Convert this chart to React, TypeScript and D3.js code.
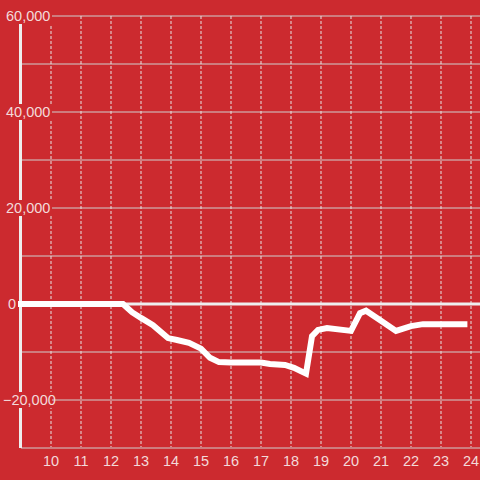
import React from "react";
import * as d3 from "d3";

const xValues = [9, 12.4, 12.7, 13.0, 13.4, 13.9, 14.2, 14.6, 15.0, 15.3, 15.6, 16.0, 17.0, 17.3, 17.8, 18.1, 18.5, 18.7, 18.9, 19.2, 20.0, 20.3, 20.5, 21.0, 21.5, 22.0, 22.4, 23.78];
const yValues = [0, 0, -1700, -2900, -4400, -7100, -7500, -8100, -9300, -11200, -12100, -12200, -12200, -12500, -12700, -13300, -14500, -6700, -5400, -5000, -5600, -1900, -1400, -3500, -5600, -4600, -4200, -4200];
const xTicks = [10, 11, 12, 13, 14, 15, 16, 17, 18, 19, 20, 21, 22, 23, 24];
const yGrid = [-30000, -20000, -10000, 10000, 20000, 30000, 40000, 50000, 60000];
const yLabels = [-20000, 0, 20000, 40000, 60000];

const W = 480;
const H = 480;
const BG = "#cc2a2f";

export default function App() {
  const x = d3.scaleLinear().domain([9, 24.3]).range([21, 480]);
  const y = d3.scaleLinear().domain([-30000, 60000]).range([448, 16]);
  const pts: [number, number][] = xValues.map((v, i) => [v, yValues[i]]);
  const line = d3
    .line<[number, number]>()
    .x((d) => x(d[0]))
    .y((d) => y(d[1]));
  const fmt = d3.format(",");
  return (
    <div style={{ position: "fixed", left: 0, top: 0, width: W, height: H }}>
      <svg width={W} height={H} style={{ display: "block", fontFamily: "'Liberation Sans', Arial, sans-serif" }}>
        <rect x={0} y={0} width={W} height={H} fill={BG} />
        {yGrid.map((v) => (
          <line key={"g" + v} x1={x(9)} x2={W} y1={y(v)} y2={y(v)} stroke="#cfcfcf" strokeWidth={1} />
        ))}
        {xTicks.map((t) => (
          <line key={"v" + t} x1={x(t)} x2={x(t)} y1={y(60000)} y2={y(-30000) - 1} stroke="#e6e6e6" strokeWidth={1} strokeDasharray="3,2" />
        ))}
        <line x1={x(9)} x2={W} y1={y(0)} y2={y(0)} stroke="#eeeeee" strokeWidth={3} />
        <line x1={x(9) - 0.5} x2={x(9) - 0.5} y1={y(60000)} y2={y(-30000)} stroke="#eeeeee" strokeWidth={3} />
        {yLabels.map((v) => (
          <g key={"l" + v}>
            <rect x={4} y={y(v) - 8} width={v === 0 ? 13 : 48} height={16} fill={BG} />
            <text x={v < 0 ? 3 : v === 0 ? 8 : 6} y={y(v) + 5} fontSize={14.5} fill="#f3dada">
              {fmt(v)}
            </text>
          </g>
        ))}
        {xTicks.map((t) => (
          <text key={"t" + t} x={x(t)} y={466} fontSize={14.5} fill="#f3dada" textAnchor="middle">
            {t}
          </text>
        ))}
        <path d={line(pts) || ""} fill="none" stroke="#ffffff" strokeWidth={6} strokeLinecap="square" />
      </svg>
    </div>
  );
}
